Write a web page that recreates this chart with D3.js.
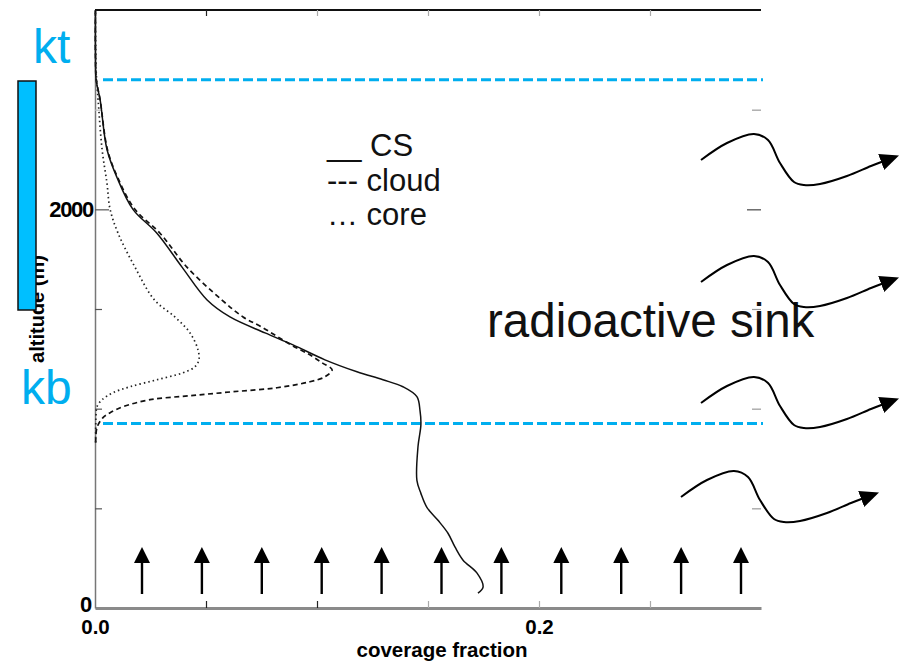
<!DOCTYPE html>
<html>
<head>
<meta charset="utf-8">
<script src="https://cdn.jsdelivr.net/npm/d3@7"></script>
<style>
  html, body { margin: 0; padding: 0; background: #fff; }
  svg { display: block; font-family: "Liberation Sans", Arial, Helvetica, sans-serif; }
</style>
</head>
<body>
<svg id="chart" width="903" height="664"></svg>
<script>
// Coverage fraction profiles (altitude in m, fraction of domain)
const csAlt   = [75, 105, 175, 240, 305, 375, 440, 505, 575, 640, 810, 920, 990, 1060, 1110, 1145, 1185, 1245, 1320, 1380, 1460, 1545, 1710, 1880, 2000, 2160, 2300, 2550, 2650, 2780, 3000];
const csFrac  = [0.1725, 0.1748, 0.1721, 0.1658, 0.1622, 0.1590, 0.1545, 0.1495, 0.1468, 0.1450, 0.1455, 0.1468, 0.1464, 0.1450, 0.1387, 0.1297, 0.1180, 0.1036, 0.0892, 0.0766, 0.0608, 0.0505, 0.0392, 0.0279, 0.0171, 0.0099, 0.0054, 0.0023, 0.0005, 0.0002, 0.0002];

const cloudAlt  = [830, 905, 955, 980, 1010, 1045, 1065, 1085, 1105, 1135, 1160, 1195, 1230, 1270, 1320, 1410, 1460, 1545, 1710, 1880, 2000, 2160, 2300, 2550, 2650, 2780, 3000];
const cloudFrac = [0.0003, 0.0009, 0.0036, 0.0068, 0.0126, 0.0248, 0.0428, 0.0622, 0.0820, 0.0968, 0.1036, 0.1068, 0.1023, 0.0968, 0.0883, 0.0750, 0.0667, 0.0572, 0.0414, 0.0293, 0.0180, 0.0102, 0.0056, 0.0023, 0.0006, 0.0002, 0.0002];

const coreAlt  = [830, 980, 1010, 1045, 1080, 1110, 1145, 1180, 1210, 1245, 1295, 1380, 1460, 1545, 1710, 1880, 2000, 2130, 2300, 2550, 2700, 3000];
const coreFrac = [0.0003, 0.0005, 0.0009, 0.0032, 0.0081, 0.0158, 0.0279, 0.0396, 0.0450, 0.0468, 0.0464, 0.0428, 0.0360, 0.0268, 0.0180, 0.0104, 0.0068, 0.0054, 0.0032, 0.0014, 0.0005, 0.0002];

// Axis ticks
const xLabelTicks = [0.0, 0.2];
const xMinorTicks = [0.05, 0.10, 0.15, 0.20, 0.25];
const yLabelTicks = [0, 2000];
const yMinorTicks = [500, 1000, 1500, 2000, 2500];

// Cloud layer levels (m)
const layerLevels = ["kt", "kb"];
const layerAlt = [2650, 925];

const legendLabels = ["__ CS", "--- cloud", "\u2026 core"];

const svg = d3.select("#chart");
const W = 903, H = 664;
const plot = { left: 95, right: 761, top: 10, bottom: 608 };
const FONT = "'Liberation Sans', Arial, sans-serif";

const x = d3.scaleLinear().domain([0, 0.3]).range([plot.left, plot.right]);
const y = d3.scaleLinear().domain([0, 3000]).range([plot.bottom, plot.top]);

svg.append("rect").attr("width", W).attr("height", H).attr("fill", "#fff");

// frame: top edge
svg.append("line")
  .attr("x1", plot.left).attr("x2", plot.right)
  .attr("y1", plot.top).attr("y2", plot.top)
  .attr("stroke", "#111").attr("stroke-width", 2);

// bottom axis with labels
const gBottom = svg.append("g").attr("transform", `translate(0,${plot.bottom})`)
  .call(d3.axisBottom(x).tickValues(xLabelTicks).tickFormat(d3.format(".1f")).tickSize(0).tickPadding(11));
gBottom.select(".domain").attr("stroke", "#8a8a8a").attr("stroke-width", 3);
gBottom.selectAll("text")
  .style("font-size", "20.5px").style("font-weight", "bold").style("font-family", FONT).attr("fill", "#000");

// bottom inner ticks
const gBottomMinor = svg.append("g").attr("transform", `translate(0,${plot.bottom})`)
  .call(d3.axisTop(x).tickValues(xMinorTicks).tickSize(7).tickFormat(""));
gBottomMinor.select(".domain").remove();
gBottomMinor.selectAll(".tick line").attr("stroke", (d, i) => i < 2 ? "#222" : "#aaa").attr("stroke-width", 1.2);

// top inner ticks
const gTopMinor = svg.append("g").attr("transform", `translate(0,${plot.top})`)
  .call(d3.axisBottom(x).tickValues(xMinorTicks).tickSize(6).tickFormat(""));
gTopMinor.select(".domain").remove();
gTopMinor.selectAll(".tick line").attr("stroke", (d, i) => i === 0 ? "#222" : "#aaa").attr("stroke-width", 1.2);

// left axis with labels
const gLeft = svg.append("g").attr("transform", `translate(${plot.left},0)`)
  .call(d3.axisLeft(y).tickValues(yLabelTicks).tickFormat(d3.format("d")).tickSize(0).tickPadding(2));
gLeft.select(".domain").attr("stroke", "#777").attr("stroke-width", 1.5);
gLeft.selectAll("text")
  .style("font-size", "22px").style("font-weight", "bold").style("font-family", FONT)
  .style("letter-spacing", "-1.3px").attr("fill", "#000");
gLeft.selectAll(".tick").filter(d => d === 0).select("text").attr("dy", "0.15em").attr("x", -4);

// left inner ticks
const gLeftMinor = svg.append("g").attr("transform", `translate(${plot.left},0)`)
  .call(d3.axisRight(y).tickValues(yMinorTicks).tickSize(7).tickFormat(""));
gLeftMinor.select(".domain").remove();
gLeftMinor.selectAll(".tick line")
  .attr("x2", d => d === 2000 ? 14 : 7)
  .attr("stroke", d => d === 2500 ? "#bbb" : "#555").attr("stroke-width", 1.2);

// right inner ticks
const gRightMinor = svg.append("g").attr("transform", `translate(${plot.right},0)`)
  .call(d3.axisLeft(y).tickValues(yMinorTicks).tickSize(10).tickFormat(""));
gRightMinor.select(".domain").remove();
gRightMinor.selectAll(".tick line")
  .attr("x2", d => d === 2000 ? -14 : -9)
  .attr("stroke", d => d === 2000 ? "#444" : "#999").attr("stroke-width", 1.2);

// axis titles
svg.append("text")
  .attr("x", 442).attr("y", 657)
  .attr("text-anchor", "middle").style("font-size", "20.5px").style("font-weight", "bold")
  .text("coverage fraction");

svg.append("text")
  .attr("transform", `translate(44,${(plot.top + plot.bottom) / 2}) rotate(-90)`)
  .attr("text-anchor", "middle").style("font-size", "20px").style("font-weight", "bold")
  .text("altitude (m)");

// cloud layer bar
svg.append("rect")
  .attr("x", 18).attr("y", 81).attr("width", 18).attr("height", 229)
  .attr("fill", "#00BFFF").attr("stroke", "#111").attr("stroke-width", 1.5);

// cloud top / base levels
const lvlColor = "#00AEEF";
svg.selectAll(".lvl").data(layerAlt).join("line")
  .attr("class", "lvl")
  .attr("x1", plot.left + 8).attr("x2", plot.right + 2)
  .attr("y1", d => y(d)).attr("y2", d => y(d))
  .attr("stroke", lvlColor).attr("stroke-width", 3).attr("stroke-dasharray", "10,4");

svg.selectAll(".lvlLabel").data(layerLevels).join("text")
  .attr("class", "lvlLabel")
  .attr("x", (d, i) => i === 0 ? 33 : 21)
  .attr("y", (d, i) => i === 0 ? 63 : 404)
  .style("font-size", "48px").attr("fill", lvlColor)
  .text(d => d);

// profiles
const profile = (alt, frac) => d3.line()
  .x((d, i) => x(frac[i])).y(d => y(d))
  .curve(d3.curveCatmullRom.alpha(0.5))(alt);

svg.append("path").attr("d", profile(csAlt, csFrac))
  .attr("fill", "none").attr("stroke", "#111").attr("stroke-width", 1.5);
svg.append("path").attr("d", profile(cloudAlt, cloudFrac))
  .attr("fill", "none").attr("stroke", "#111").attr("stroke-width", 1.7).attr("stroke-dasharray", "5,3.5");
svg.append("path").attr("d", profile(coreAlt, coreFrac))
  .attr("fill", "none").attr("stroke", "#222").attr("stroke-width", 1.7).attr("stroke-dasharray", "1.5,3");

// legend
svg.selectAll(".leg").data(legendLabels).join("text")
  .attr("class", "leg")
  .attr("x", 327).attr("y", (d, i) => 156 + i * 34.5)
  .style("font-size", "31px").attr("fill", "#111")
  .text(d => d);

svg.append("text")
  .attr("x", 487).attr("y", 337)
  .style("font-size", "47.5px").attr("fill", "#111")
  .text("radioactive sink");

// upward arrows along the surface
const upCount = 11, upStart = 142, upStep = 59.9;
const ups = d3.range(upCount).map(i => upStart + i * upStep);
const gUp = svg.append("g");
gUp.selectAll("line").data(ups).join("line")
  .attr("x1", d => d).attr("x2", d => d).attr("y1", 594).attr("y2", 558)
  .attr("stroke", "#000").attr("stroke-width", 2.4);
gUp.selectAll("path").data(ups).join("path")
  .attr("d", d => `M${d},547L${d - 8},563L${d + 8},563Z`).attr("fill", "#000");

// wavy radiative arrows
const defs = svg.append("defs");
defs.append("marker")
  .attr("id", "head").attr("markerUnits", "userSpaceOnUse")
  .attr("viewBox", "0 -9 19 18").attr("markerWidth", 19).attr("markerHeight", 18)
  .attr("refX", 3).attr("refY", 0).attr("orient", "auto")
  .append("path").attr("d", "M0,-8.5L19,0L0,8.5Z").attr("fill", "#000");

const wave = [[0, 0], [26, -17], [53, -26], [67, -20], [79, 3], [93, 22], [103, 25], [119, 24], [146, 16], [170, 6], [183, 1]];
const waveStarts = [[701, 160], [701, 282], [701, 403], [681, 497]];
const waveLine = d3.line().curve(d3.curveCatmullRom.alpha(0.5));
svg.selectAll(".wave").data(waveStarts).join("path")
  .attr("class", "wave")
  .attr("d", s => waveLine(wave.map(p => [s[0] + p[0], s[1] + p[1]])))
  .attr("fill", "none").attr("stroke", "#000").attr("stroke-width", 2)
  .attr("marker-end", "url(#head)");
</script>
</body>
</html>
